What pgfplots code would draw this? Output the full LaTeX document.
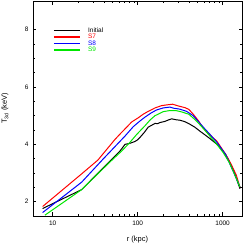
\documentclass[border=0pt]{standalone}
\usepackage{fontspec}
\setmainfont{Liberation Sans}
\usepackage{pgfplots}
\pgfplotsset{compat=1.18}
\definecolor{cgreen}{RGB}{0,230,0}
\definecolor{cblue}{RGB}{0,0,255}
\definecolor{cred}{RGB}{255,0,0}
\begin{document}
\begin{tikzpicture}
\path[use as bounding box] (-33bp,-29bp) rectangle (217bp,216bp);
\begin{axis}[
  scale only axis,
  width=209bp, height=215bp,
  xmode=log,
  xmin=5.86, xmax=1690,
  ymin=1.5, ymax=9,
  xtick={10,100,1000},
  xticklabels={10,100,1000},
  ytick={2,4,6,8},
  minor y tick num=3,
  tick align=inside,
  tick pos=both,
  major tick length=3.5bp,
  minor tick length=2bp,
  axis line style={line width=0.6pt},
  every tick/.style={line width=0.5pt,black},
  tick label style={font=\fontsize{6.5}{7}\selectfont},
  /pgf/number format/assume math mode=true,
  xticklabel style={yshift=-1bp},
  yticklabel style={xshift=-1bp},
  xlabel={r (kpc)},
  ylabel={T\textsubscript{3d} (keV)},
  label style={font=\fontsize{7.5}{8}\selectfont},
  xlabel style={at={(axis description cs:0.5,-0.1116)},anchor=center},
  ylabel style={at={(axis description cs:-0.134,0.5)},anchor=center},
  legend style={at={(axis cs:9.3,8.18)},anchor=north west,draw=none,fill=none,
    font=\fontsize{6.5}{6.5}\selectfont, row sep=-1.2bp,
    nodes={inner sep=0.8bp}},
  legend cell align=left,
  legend image code/.code={\draw[#1,line width=1.2pt] (0bp,0bp) -- (26bp,0bp); \path (33bp,0bp);},
  every axis plot/.append style={line width=1.0pt},
]
\addplot[black] coordinates {
(7.6,1.76) (21.9,2.42) (62,3.77) (71,4.00) (80,4.03) (93,4.10) (100,4.16) (107,4.25) (120,4.42)
(133,4.60) (145,4.66) (160,4.73) (172,4.72) (183,4.76) (209,4.80) (230,4.85) (251,4.89) (280,4.86)
(315,4.84) (360,4.79) (412,4.70) (470,4.60) (540,4.46) (620,4.33) (708,4.20) (850,4.01)
(972,3.83) (1080,3.66) (1164,3.48) (1270,3.25) (1400,2.95) (1600,2.45)};
\addlegendentry{Initial}
\addplot[cred] coordinates {
(7.6,1.83) (21.9,2.97) (34,3.45) (54,4.17) (62,4.36) (70,4.52) (85,4.78) (102,4.93) (116,5.05) (133,5.15)
(160,5.27) (191,5.35) (225,5.38) (258,5.40) (300,5.34) (360,5.28) (400,5.22) (451,5.05)
(520,4.82) (580,4.60) (648,4.44) (750,4.26) (850,4.12) (930,3.95) (1016,3.78) (1150,3.52) (1276,3.27) (1450,2.92) (1600,2.50)};
\addlegendentry{\textcolor{cred}{S7}}
\addplot[cblue] coordinates {
(7.6,1.62) (21.9,2.68) (39,3.48) (71,4.29) (89,4.62) (105,4.80) (122,4.95) (145,5.10) (167,5.20) (200,5.27)
(240,5.30) (265,5.26) (310,5.23) (377,5.15) (450,5.00) (516,4.80) (600,4.58) (708,4.35)
(850,4.08) (972,3.84) (1080,3.65) (1164,3.44) (1350,3.02) (1600,2.51)};
\addlegendentry{\textcolor{cblue}{S8}}
\addplot[cgreen] coordinates {
(8.1,1.53) (21.9,2.42) (47,3.38) (65,3.77) (80,4.05) (97,4.34) (122,4.65) (140,4.85) (160,5.00) (200,5.14)
(240,5.18) (280,5.18) (330,5.13) (400,5.05) (470,4.87) (550,4.66) (708,4.29) (850,4.01)
(1016,3.71) (1200,3.36) (1350,3.02) (1600,2.51)};
\addlegendentry{\textcolor{cgreen}{S9}}
\end{axis}
\end{tikzpicture}
\end{document}
